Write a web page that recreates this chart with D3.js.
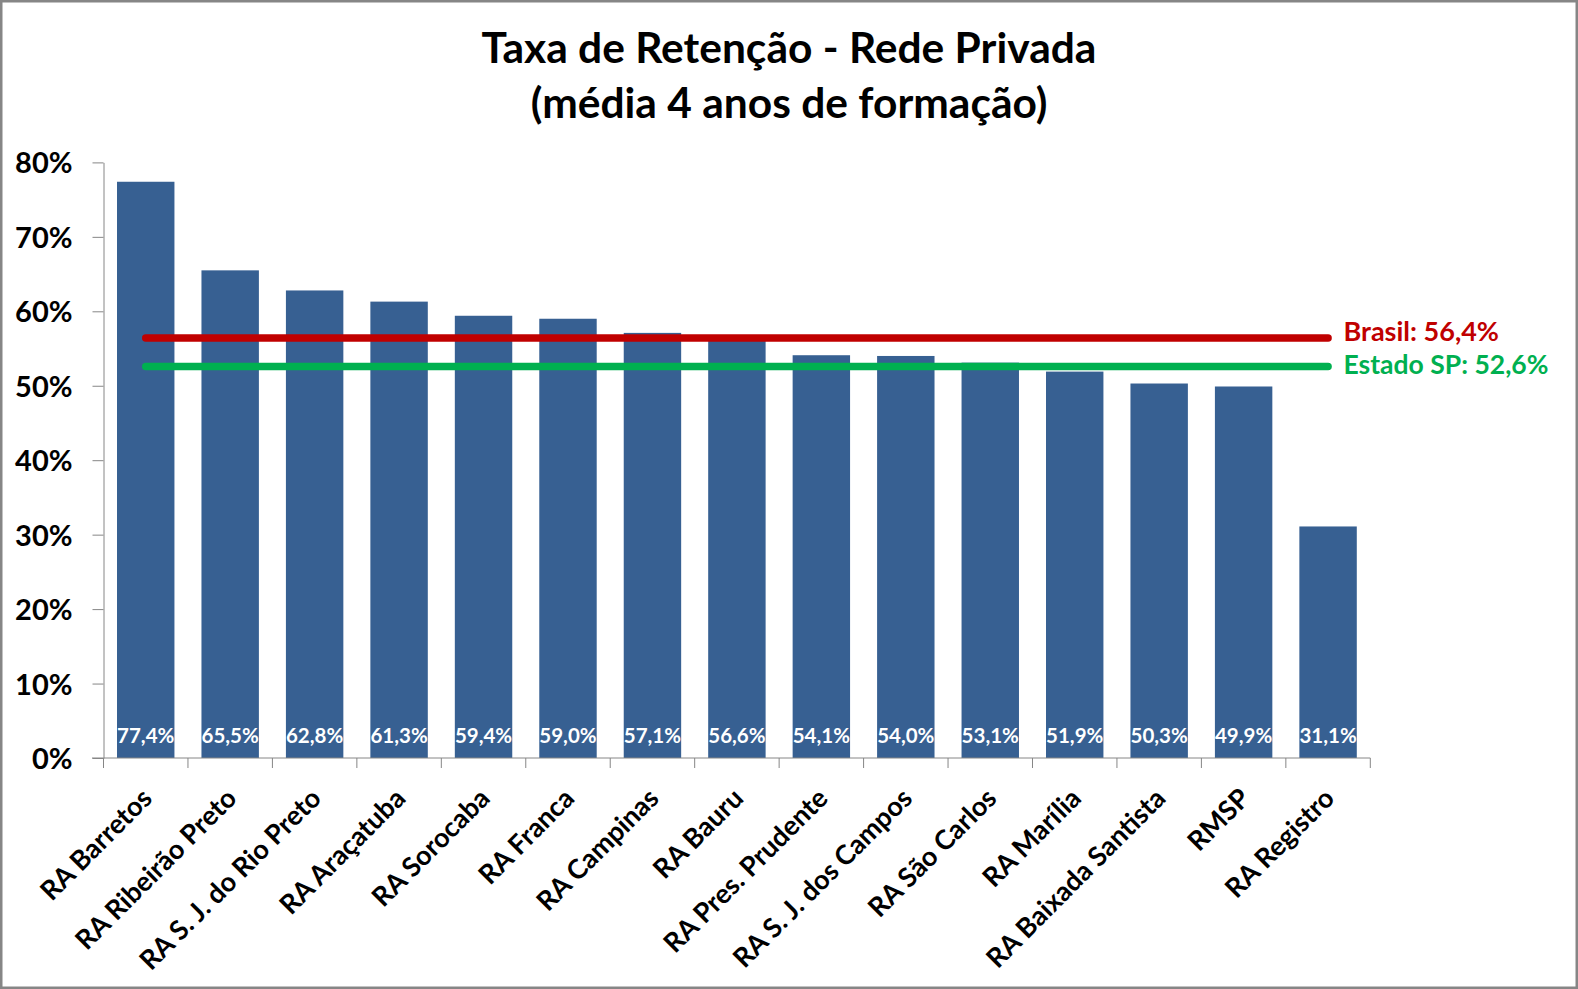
<!DOCTYPE html>
<html>
<head>
<meta charset="utf-8">
<script src="https://cdn.jsdelivr.net/npm/d3@7"></script>
<style>
  html, body { margin: 0; padding: 0; background: #fff; }
  svg { display: block; }
  text { font-family: Lato, "Open Sans", sans-serif; font-weight: bold; }
</style>
</head>
<body>
<svg id="chart" width="1578" height="989"></svg>
<script>
// ---- data ----
const titleLines = ["Taxa de Retenção - Rede Privada", "(média 4 anos de formação)"];
const categories = ["RA Barretos", "RA Ribeirão Preto", "RA S. J. do Rio Preto", "RA Araçatuba",
  "RA Sorocaba", "RA Franca", "RA Campinas", "RA Bauru", "RA Pres. Prudente",
  "RA S. J. dos Campos", "RA São Carlos", "RA Marília", "RA Baixada Santista", "RMSP", "RA Registro"];
const values = [77.4, 65.5, 62.8, 61.3, 59.4, 59.0, 57.1, 56.6, 54.1, 54.0, 53.1, 51.9, 50.3, 49.9, 31.1];
const yTicks = [0, 10, 20, 30, 40, 50, 60, 70, 80];
const refNames = ["Brasil", "Estado SP"];
const refValues = [56.4, 52.6];
const refColors = ["#C00000", "#00B050"];

const fmt = v => v.toFixed(1).replace(".", ",") + "%";

const svg = d3.select("#chart");
const W = 1578, H = 989;

// border
svg.append("rect").attr("x", 1.25).attr("y", 1.25).attr("width", W - 2.5).attr("height", H - 2.5)
  .attr("fill", "#fff").attr("stroke", "#868686").attr("stroke-width", 2.5);

// title
svg.append("g").selectAll("text").data(titleLines).join("text")
  .attr("x", 789).attr("y", (d, i) => 62.5 + i * 55.5)
  .attr("text-anchor", "middle").attr("font-size", 42.5).attr("fill", "#000")
  .text(d => d);

const x = d3.scaleBand().domain(categories).range([103.5, 1370.3]).padding(0);
const y = d3.scaleLinear().domain([0, 80]).range([758, 162.4]);
const barW = x.bandwidth() * 0.68;
const axisColor = "#868686";

// y axis
const yAxis = svg.append("g").attr("transform", `translate(${x.range()[0]},0)`)
  .call(d3.axisLeft(y).tickValues(yTicks).tickSize(11).tickSizeOuter(0).tickFormat(d => d + "%"));
yAxis.select(".domain").attr("stroke", axisColor);
yAxis.selectAll(".tick line").attr("stroke", axisColor);
yAxis.selectAll(".tick text").attr("font-size", 29).attr("fill", "#000")
  .attr("font-family", "Lato, sans-serif").attr("font-weight", "bold")
  .attr("x", -31).attr("dy", "0.36em");

// bars
svg.append("g").selectAll("rect").data(values).join("rect")
  .attr("x", (d, i) => x(categories[i]) + (x.bandwidth() - barW) / 2)
  .attr("y", d => y(d)).attr("width", barW).attr("height", d => y(0) - y(d))
  .attr("fill", "#376092");

// x axis
const xAxis = svg.append("g").attr("transform", `translate(0,${y(0)})`);
xAxis.append("line").attr("x1", 92).attr("x2", x.range()[1]).attr("y1", 0).attr("y2", 0)
  .attr("stroke", axisColor);
const bounds = categories.map(c => x(c)).concat([x.range()[1]]);
xAxis.selectAll("line.tk").data(bounds).join("line").attr("class", "tk")
  .attr("x1", d => d).attr("x2", d => d).attr("y1", 0).attr("y2", 10).attr("stroke", axisColor);
xAxis.selectAll("text").data(categories).join("text")
  .attr("transform", d => `translate(${x(d) + x.bandwidth() / 2 + 8},${42}) rotate(-45)`)
  .attr("text-anchor", "end").attr("font-size", 27).attr("fill", "#000")
  .text(d => d);

// data labels
svg.append("g").selectAll("text").data(values).join("text")
  .attr("x", (d, i) => x(categories[i]) + x.bandwidth() / 2)
  .attr("y", 742.7).attr("text-anchor", "middle").attr("font-size", 20.5).attr("fill", "#fff")
  .text(d => fmt(d));

// reference lines
const c0 = x(categories[0]) + x.bandwidth() / 2;
const c1 = x(categories[categories.length - 1]) + x.bandwidth() / 2;
const labelY = [340.5, 374];
const labelSize = [27, 26.5];
refValues.forEach((v, i) => {
  svg.append("line").attr("x1", c0).attr("x2", c1).attr("y1", y(v)).attr("y2", y(v))
    .attr("stroke", refColors[i]).attr("stroke-width", 7.5).attr("stroke-linecap", "round");
  svg.append("text").attr("x", 1343.5).attr("y", labelY[i]).attr("font-size", labelSize[i])
    .attr("fill", refColors[i]).text(`${refNames[i]}: ${fmt(v)}`);
});
</script>
</body>
</html>
